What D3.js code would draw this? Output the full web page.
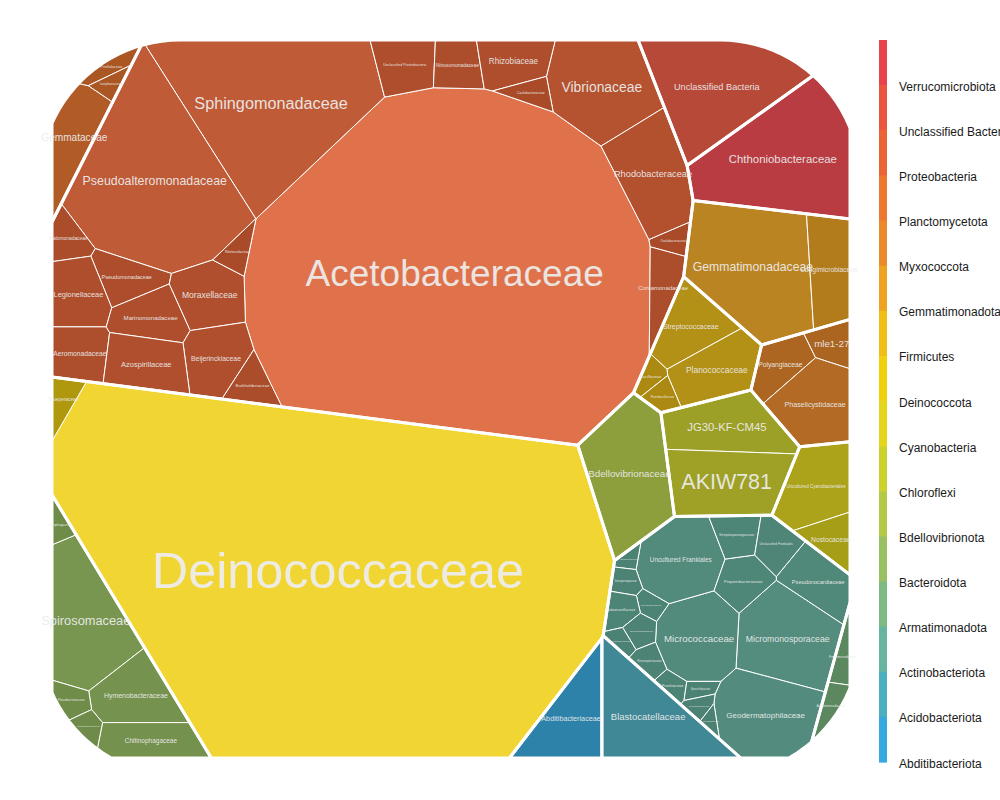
<!DOCTYPE html>
<html><head><meta charset="utf-8">
<script src="https://cdn.jsdelivr.net/npm/d3@7"></script>
<style>body{margin:0;background:#fff;} svg{display:block;}</style>
</head><body>
<svg id="chart" width="1000" height="800"></svg>
<script>
// ---------------- DATA ----------------
const phyla = ["Verrucomicrobiota","Unclassified Bacteria","Proteobacteria","Planctomycetota","Myxococcota","Gemmatimonadota","Firmicutes","Deinococcota","Cyanobacteria","Chloroflexi","Bdellovibrionota","Bacteroidota","Armatimonadota","Actinobacteriota","Acidobacteriota","Abditibacteriota"];

const families = [
 "Acetobacteraceae","Sphingomonadaceae","Pseudoalteromonadaceae","Vibrionaceae","Rhodobacteraceae","Oxalobacteraceae","Comamonadaceae","Unclassified Proteobacteria","Nitrosomonadaceae","Rhizobiaceae","Caulobacteraceae","Halomonadaceae","Pseudomonadaceae","Legionellaceae","Aeromonadaceae","Marinomonadaceae","Moraxellaceae","Nitrincolaceae","Beijerinckiaceae","Azospirillaceae","Burkholderiaceae",
 "Gemmataceae","Pirellulaceae","Isosphaeraceae",
 "Unclassified Bacteria",
 "Chthoniobacteraceae",
 "Gemmatimonadaceae","Longimicrobiaceae",
 "Polyangiaceae","mle1-27","Phaselicystidaceae",
 "Streptococcaceae","Planococcaceae","Bacillaceae","Paenibacillaceae",
 "Deinococcaceae","Trueperaceae",
 "JG30-KF-CM45","AKIW781",
 "Bdellovibrionaceae",
 "Uncultured Cyanobacteriales","Nostocaceae",
 "Spirosomaceae","Hymenobacteraceae","Chitinophagaceae","Cytophagaceae","Flavobacteriaceae","Sphingobacteriaceae",
 "Fimbriimonadaceae","Armatimonadaceae",
 "Micromonosporaceae","Geodermatophilaceae","Micrococcaceae","Uncultured Frankiales","Pseudonocardiaceae","Propionibacteriaceae","Streptosporangiaceae","Unclassified Frankiales","Nocardioidaceae","Intrasporangiaceae","Microbacteriaceae","Nakamurellaceae","Solirubrobacteraceae","Mycobacteriaceae","Kineosporiaceae","Frankiaceae","Sporichthyaceae","Cellulomonadaceae","Nocardiaceae",
 "Blastocatellaceae",
 "Abditibacteriaceae"
];

const familyPhylum = [
 "Proteobacteria","Proteobacteria","Proteobacteria","Proteobacteria","Proteobacteria","Proteobacteria","Proteobacteria","Proteobacteria","Proteobacteria","Proteobacteria","Proteobacteria","Proteobacteria","Proteobacteria","Proteobacteria","Proteobacteria","Proteobacteria","Proteobacteria","Proteobacteria","Proteobacteria","Proteobacteria","Proteobacteria",
 "Planctomycetota","Planctomycetota","Planctomycetota",
 "Unclassified Bacteria",
 "Verrucomicrobiota",
 "Gemmatimonadota","Gemmatimonadota",
 "Myxococcota","Myxococcota","Myxococcota",
 "Firmicutes","Firmicutes","Firmicutes","Firmicutes",
 "Deinococcota","Deinococcota",
 "Chloroflexi","Chloroflexi",
 "Bdellovibrionota",
 "Cyanobacteria","Cyanobacteria",
 "Bacteroidota","Bacteroidota","Bacteroidota","Bacteroidota","Bacteroidota","Bacteroidota",
 "Armatimonadota","Armatimonadota",
 "Actinobacteriota","Actinobacteriota","Actinobacteriota","Actinobacteriota","Actinobacteriota","Actinobacteriota","Actinobacteriota","Actinobacteriota","Actinobacteriota","Actinobacteriota","Actinobacteriota","Actinobacteriota","Actinobacteriota","Actinobacteriota","Actinobacteriota","Actinobacteriota","Actinobacteriota","Actinobacteriota","Actinobacteriota",
 "Acidobacteriota",
 "Abditibacteriota"
];

// relative abundance of each family
const familyValues = [
 113.7,24.7,24.0,9.0,7.1,0.8,2.2,3.0,2.2,3.1,1.0,1.5,2.5,3.5,2.9,3.1,4.0,1.0,3.9,4.1,1.6,
 4.0,0.8,0.6,
 12.1,
 15.1,
 14.0,4.3,
 2.5,1.5,5.4,
 4.0,4.5,0.7,0.8,
 161.0,1.1,
 6.0,7.3,
 10.0,
 5.0,1.8,
 9.0,4.5,3.5,0.6,1.0,0.7,
 0.9,0.9,
 8.0,7.5,6.0,5.8,3.3,2.2,1.7,1.8,0.4,0.7,0.6,1.0,0.8,0.5,0.8,0.6,0.5,0.5,0.3,
 8.5,
 5.5
];

// ---------------- LAYOUT HINTS (initial Voronoi sites, panel coordinates) ----------------
const phylumSeedX = [785,735,377,100,804,771,694,333,815,719,612,100,837,721,633,538];
const phylumSeedY = [165, 95,235, 95,398,284,372,574,510,471,485,715,665,633,732,732];

const seedX = [
 450,275,165,595,655,682,670,408,455,505,515,70,130,78,78,147,205,232,215,140,252,
 85,100,112,
 735,
 785,
 752,833,
 775,832,810,
 690,712,645,655,
 335,65,
 720,718,
 618,
 810,828,
 95,140,140,65,75,90,
 838,833,
 775,755,685,665,810,728,722,765,620,617,642,612,628,605,632,658,685,690,705,
 640,
 552
];
const seedY = [
 285,100,170,82,180,243,287,66,68,60,97,242,277,298,360,318,292,240,358,368,382,
 140,75,100,
 95,
 165,
 285,280,
 380,352,420,
 345,385,393,411,
 575,418,
 440,497,
 480,
 495,550,
 625,683,735,553,693,725,
 660,695,
 645,720,640,570,592,592,548,555,562,587,610,617,637,645,662,684,688,712,745,
 715,
 715
];

// ---------------- STYLE ----------------
const palette = ["#E8424A","#E9553F","#EA6536","#EC772E","#EB8828","#EDA31F","#EFBF16","#F1D010","#E4D71B","#CDD22A","#B3CA45","#99C163","#7EBB82","#67B5A1","#4CAEC1","#35A9E0"];

const svg = d3.select("#chart");
const x = d3.scaleLinear().domain([52, 850]).range([52, 850]);
const y = d3.scaleLinear().domain([40, 758]).range([40, 758]);

// ---------------- GEOMETRY ----------------
function clipHalf(poly, a, b, c) {
  const out = [], n = poly.length;
  for (let i = 0; i < n; i++) {
    const p = poly[i], q = poly[(i + 1) % n];
    const fp = a * p[0] + b * p[1] - c, fq = a * q[0] + b * q[1] - c;
    if (fp <= 0) out.push(p);
    if ((fp < 0 && fq > 0) || (fp > 0 && fq < 0)) {
      const t = fp / (fp - fq);
      out.push([p[0] + t * (q[0] - p[0]), p[1] + t * (q[1] - p[1])]);
    }
  }
  return out;
}
function areaOf(c) { return c.length >= 3 ? Math.abs(d3.polygonArea(c)) : 0; }
function powerCells(clip, sites) {
  return sites.map((s, i) => {
    let poly = clip;
    for (let j = 0; j < sites.length; j++) {
      if (j === i) continue;
      const t = sites[j];
      const a = 2 * (t.x - s.x), b = 2 * (t.y - s.y);
      const c = (t.x * t.x + t.y * t.y - t.w) - (s.x * s.x + s.y * s.y - s.w);
      poly = clipHalf(poly, a, b, c);
      if (poly.length < 3) return [];
    }
    return poly;
  });
}
function insideSeed(poly, p, k) {
  if (d3.polygonContains(poly, p)) return p;
  const c = d3.polygonCentroid(poly);
  for (let t = 0.95; t > 0; t -= 0.05) {
    const q = [c[0] + t * (p[0] - c[0]), c[1] + t * (p[1] - c[1])];
    if (d3.polygonContains(poly, q)) return q;
  }
  return [c[0] + k * 0.7, c[1] + k * 0.5];
}
// weighted (power) Voronoi map: sites start at the layout hints,
// weights are adapted so every cell area matches its value
function voronoiMap(clip, items, iters) {
  if (items.length === 1) return [clip.slice()];
  const A = areaOf(clip);
  const tot = d3.sum(items, d => d.value);
  const sites = items.map((d, k) => {
    const p = insideSeed(clip, [d.sx, d.sy], k);
    const target = d.value / tot * A;
    return { x: p[0] + k * 1e-3, y: p[1], target, w: target / Math.PI };
  });
  const m0 = d3.mean(sites, s => s.w);
  sites.forEach(s => { s.w -= m0; });
  const eta = 0.15;
  for (let it = 0; it < iters; it++) {
    const areas = powerCells(clip, sites).map(areaOf);
    sites.forEach((s, i) => { s.w += eta * (s.target - areas[i]); });
    const m = d3.mean(sites, s => s.w);
    sites.forEach(s => { s.w -= m; });
  }
  return powerCells(clip, sites);
}
function roundedRect(x0, y0, x1, y1, r, n) {
  const pts = [];
  const corners = [[x1 - r, y0 + r, -90], [x1 - r, y1 - r, 0], [x0 + r, y1 - r, 90], [x0 + r, y0 + r, 180]];
  for (const [cx, cy, a0] of corners) for (let k = 0; k <= n; k++) {
    const a = (a0 + 90 * k / n) * Math.PI / 180;
    pts.push([cx + r * Math.cos(a), cy + r * Math.sin(a)]);
  }
  return pts;
}

// outer region: rounded rectangle clipped to the panel
let outer = roundedRect(x(40), y(40), x(860), y(776), 140, 24);
outer = clipHalf(outer, -1, 0, -x(52));
outer = clipHalf(outer, 1, 0, x(850));
outer = clipHalf(outer, 0, -1, -y(40));
outer = clipHalf(outer, 0, 1, y(758));

// build hierarchy
const famItems = families.map((f, i) => ({
  name: f, phylum: familyPhylum[i], value: familyValues[i], sx: x(seedX[i]), sy: y(seedY[i]), pi: phyla.indexOf(familyPhylum[i])
}));
const phylumItems = phyla.map((p, pi) => {
  const kids = famItems.filter(d => d.phylum === p);
  return { name: p, pi, value: d3.sum(kids, d => d.value), kids, sx: x(phylumSeedX[pi]), sy: y(phylumSeedY[pi]) };
});

const phylumCells = voronoiMap(outer, phylumItems, 1200);
phylumItems.forEach((p, i) => {
  p.cell = phylumCells[i];
  const cells = p.cell.length >= 3 ? voronoiMap(p.cell, p.kids, 1000) : p.kids.map(() => []);
  p.kids.forEach((k, j) => k.cell = cells[j]);
});

// colours
const maxVal = d3.max(familyValues);
function cellColor(pi, v) {
  const base = d3.rgb(palette[pi]);
  const dark = d3.rgb(base.r * 0.7, base.g * 0.7, base.b * 0.7);
  const light = d3.interpolateRgb(base, "#f0f0f0")(0.15);
  return d3.interpolateRgb(dark, light)(Math.sqrt(v / maxVal));
}

const pathOf = poly => "M" + poly.map(p => p[0].toFixed(2) + "," + p[1].toFixed(2)).join("L") + "Z";
const drawn = famItems.filter(d => d.cell && d.cell.length >= 3);

svg.append("g").selectAll("path").data(drawn).join("path")
  .attr("d", d => pathOf(d.cell))
  .attr("fill", d => cellColor(d.pi, d.value))
  .attr("stroke", "#ffffff").attr("stroke-width", 1).attr("stroke-linejoin", "round");

svg.append("g").selectAll("path").data(phylumItems.filter(d => d.cell.length >= 3)).join("path")
  .attr("d", d => pathOf(d.cell))
  .attr("fill", "none").attr("stroke", "#ffffff").attr("stroke-width", 3).attr("stroke-linejoin", "round");

svg.append("g").attr("font-family", "'Liberation Sans', Arial, sans-serif")
  .selectAll("text").data(drawn).join("text")
  .attr("x", d => d3.polygonCentroid(d.cell)[0])
  .attr("y", d => d3.polygonCentroid(d.cell)[1])
  .attr("text-anchor", "middle").attr("dominant-baseline", "central")
  .attr("font-size", d => (1.75 * Math.sqrt(areaOf(d.cell)) / d.name.length).toFixed(2) + "px")
  .attr("fill", "#ececec").attr("fill-opacity", 0.95)
  .text(d => d.name);

// legend
const ly = d3.scaleBand().domain(phyla).range([40, 762]).paddingInner(0).paddingOuter(0);
const gLeg = svg.append("g").attr("font-family", "'Liberation Sans', Arial, sans-serif");
gLeg.selectAll("rect").data(phyla).join("rect")
  .attr("x", 879).attr("y", d => ly(d)).attr("width", 8).attr("height", ly.bandwidth() + 0.6)
  .attr("fill", (d, i) => palette[i]);
gLeg.selectAll("text").data(phyla).join("text")
  .attr("x", 899).attr("y", d => ly(d) + ly.bandwidth() + 1.5)
  .attr("dominant-baseline", "central").attr("font-size", "12px").attr("fill", "#1a1a1a")
  .text(d => d);
</script>
</body></html>
